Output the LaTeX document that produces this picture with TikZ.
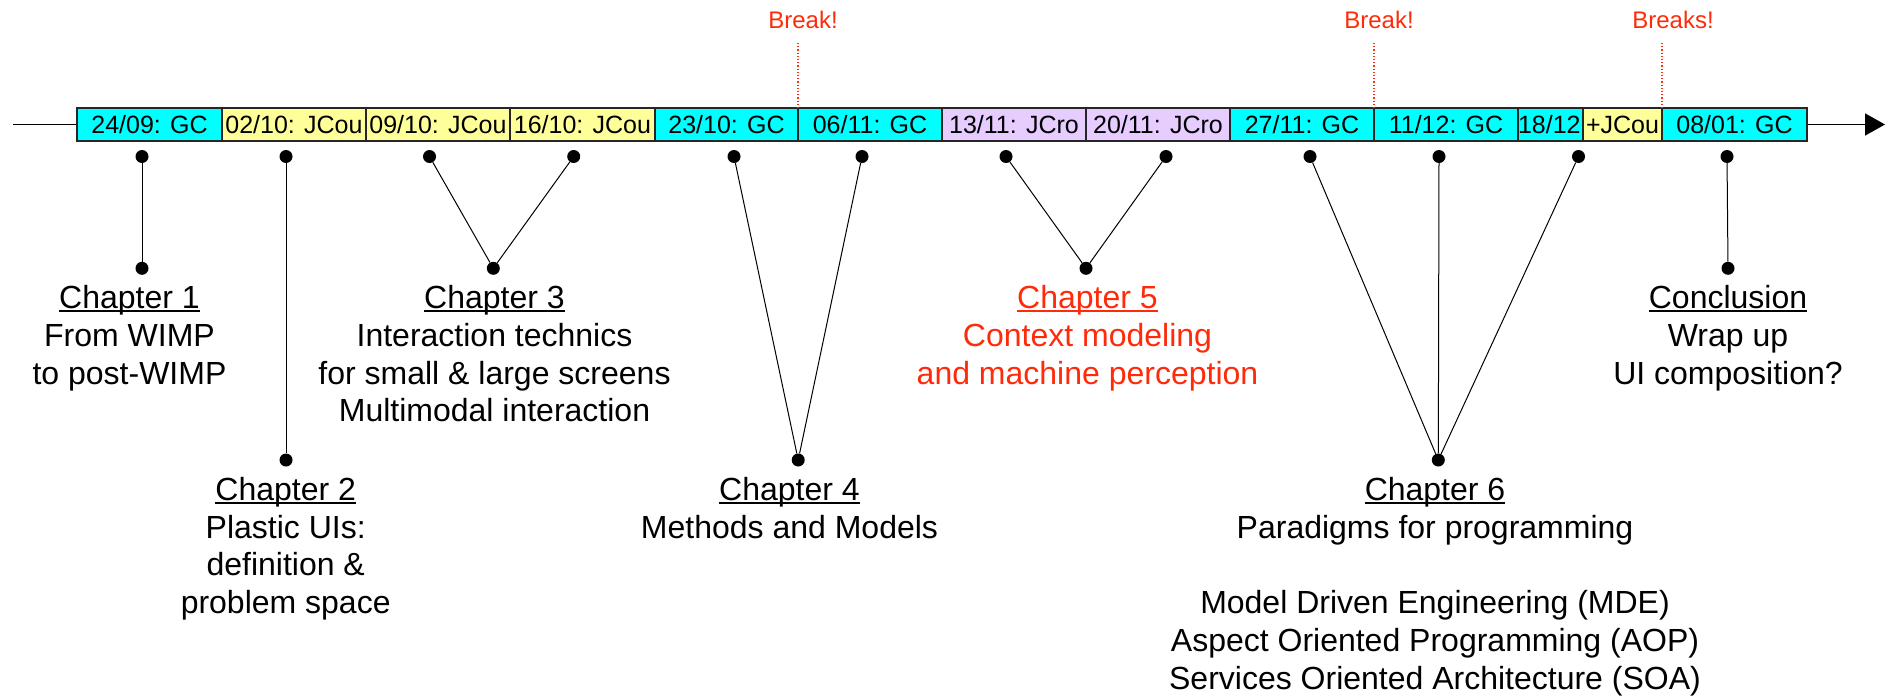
\documentclass[tikz,border=0pt]{standalone}
\usepackage{fontspec}
\setmainfont{Liberation Sans}
\usetikzlibrary{arrows.meta}

\definecolor{gccyan}{HTML}{00FFFF}
\definecolor{jcouyellow}{HTML}{FFFF99}
\definecolor{jcrolilac}{HTML}{E6CCFF}
\definecolor{breakred}{HTML}{FF2A0A}

% underline drawn close to the baseline, crossing the descenders
\newcommand\chapline[1]{\setbox0\hbox{#1}\rlap{\rule[-3.6pt]{\wd0}{1.8pt}}\box0}

\begin{document}
\begin{tikzpicture}[x=1pt,y=-1pt,
  cell/.style={draw=black!85, line width=1.5pt, minimum height=33pt, inner sep=0pt,
               outer sep=0pt, anchor=west, font=\fontsize{25}{30}\selectfont},
  gc/.style={cell, fill=gccyan},
  jcou/.style={cell, fill=jcouyellow},
  jcro/.style={cell, fill=jcrolilac},
  dot/.style={circle, fill=black, inner sep=0pt, minimum size=13pt},
  conn/.style={line width=1pt, black},
  chap/.style={align=center, anchor=north, inner sep=0pt,
               font=\fontsize{32}{37.8}\selectfont},
  brktext/.style={anchor=base, inner sep=0pt, text=breakred,
                  font=\fontsize{24}{28}\selectfont},
  brkline/.style={breakred, line width=1.2pt, dash pattern=on 1.2pt off 2pt},
  axis/.style={line width=1.5pt, -{Triangle[length=20pt,width=22pt]}}
]
\useasboundingbox (0,0) rectangle (1886,699);

% time axis
\coordinate (axL) at (13,124.5);
\coordinate (axR) at (1885,124.5);
\draw[axis] (axL) -- (axR);

% sessions
\node[gc,   minimum width=145pt] (c1)  at (77,124.5)   {24/09: GC};
\node[jcou, minimum width=144pt] (c2)  at (222,124.5)  {02/10: JCou};
\node[jcou, minimum width=144pt] (c3)  at (366,124.5)  {09/10: JCou};
\node[jcou, minimum width=145pt] (c4)  at (510,124.5)  {16/10: JCou};
\node[gc,   minimum width=143pt] (c5)  at (655,124.5)  {23/10: GC};
\node[gc,   minimum width=144pt] (c6)  at (798,124.5)  {06/11: GC};
\node[jcro, minimum width=144pt] (c7)  at (942,124.5)  {13/11: JCro};
\node[jcro, minimum width=144pt] (c8)  at (1086,124.5) {20/11: JCro};
\node[gc,   minimum width=144pt] (c9)  at (1230,124.5) {27/11: GC};
\node[gc,   minimum width=144pt] (c10) at (1374,124.5) {11/12: GC};
\node[gc,   minimum width=65pt]  (c11) at (1518,124.5) {18/12:};
\node[jcou, minimum width=79pt]  (c12) at (1583,124.5) {+JCou};
\node[gc,   minimum width=145pt] (c13) at (1662,124.5) {08/01: GC};

% breaks
\node[brktext] (bk1) at (803,28.3)  {Break!};
\node[brktext] (bk2) at (1379,28.3) {Break!};
\node[brktext] (bk3) at (1673,28.3) {Breaks!};
\coordinate (bk1top) at (798,43);
\coordinate (bk2top) at (1374,43);
\coordinate (bk3top) at (1662,43);
\draw[brkline] (bk1top) -- (c5.north east);
\draw[brkline] (bk2top) -- (c9.north east);
\draw[brkline] (bk3top) -- (c12.north east);

% dots under the sessions
\node[dot] (t1)  at (142,156.5)  {};
\node[dot] (t2)  at (286,156.5)  {};
\node[dot] (t3a) at (429.5,156.5) {};
\node[dot] (t3b) at (573.7,156.5) {};
\node[dot] (t4a) at (734,156.5)  {};
\node[dot] (t4b) at (862,156.5)  {};
\node[dot] (t5a) at (1006,156.5) {};
\node[dot] (t5b) at (1166,156.5) {};
\node[dot] (t6a) at (1310,156.5) {};
\node[dot] (t6b) at (1439,156.5) {};
\node[dot] (t6c) at (1578.5,156.5) {};
\node[dot] (t7)  at (1727,156.5) {};

% dots above the chapters
\node[dot] (b1) at (142,268.3)    {};
\node[dot] (b2) at (286,460)      {};
\node[dot] (b3) at (493.3,268.3)  {};
\node[dot] (b4) at (798.2,460)    {};
\node[dot] (b5) at (1086,268.3)   {};
\node[dot] (b6) at (1438.3,460)   {};
\node[dot] (b7) at (1728,268.3)   {};

% connectors
\draw[conn] (t1) -- (b1);
\draw[conn] (t2) -- (b2);
\draw[conn] (t3a) -- (b3);
\draw[conn] (t3b) -- (b3);
\draw[conn] (t4a) -- (b4);
\draw[conn] (t4b) -- (b4);
\draw[conn] (t5a) -- (b5);
\draw[conn] (t5b) -- (b5);
\draw[conn] (t6a) -- (b6);
\draw[conn] (t6b) -- (b6);
\draw[conn] (t6c) -- (b6);
\draw[conn] (t7) -- (b7);

% chapters
\node[chap] (ch1) at (129.5,285.2) {\chapline{Chapter 1}\\From WIMP\\to post-WIMP};
\node[chap] (ch2) at (285.7,476.9) {\chapline{Chapter 2}\\Plastic UIs:\\definition \&\\problem space};
\node[chap] (ch3) at (494.5,285.2) {\chapline{Chapter 3}\\Interaction technics\\for small \& large screens\\Multimodal interaction};
\node[chap] (ch4) at (789.5,476.9) {\chapline{Chapter 4}\\Methods and Models};
\node[chap, text=breakred] (ch5) at (1087.5,285.2) {\chapline{Chapter 5}\\Context modeling\\and machine perception};
\node[chap] (ch6) at (1435,476.9) {\chapline{Chapter 6}\\Paradigms for programming\\[37.8pt]Model Driven Engineering (MDE)\\Aspect Oriented Programming (AOP)\\Services Oriented Architecture (SOA)};
\node[chap] (ch7) at (1728,285.2) {\chapline{Conclusion}\\Wrap up\\UI composition?};
\end{tikzpicture}
\end{document}
